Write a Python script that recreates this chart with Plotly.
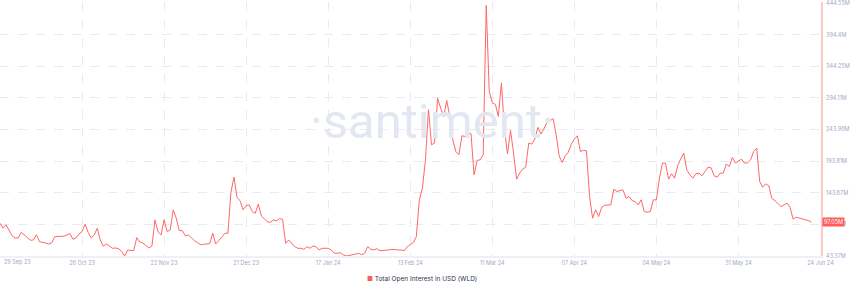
import pandas as pd
import plotly.graph_objects as go

# ---- data ----
start_date = "2023-09-29"
series_name = "Total Open Interest in USD (WLD)"
oi_values_musd = [
    95.3, 87.4, 92.6, 84.7, 75.2, 72.0, 72.0, 81.0, 76.7, 72.4,
    68.3, 68.8, 77.2, 66.1, 65.6, 64.0, 62.4, 64.0, 74.0, 74.7,
    74.7, 74.7, 76.7, 78.8, 69.9, 72.0, 78.3, 82.0, 93.7, 81.0,
    72.0, 76.7, 87.4, 68.8, 58.8, 62.4, 59.3, 55.6, 56.1, 55.0,
    50.8, 43.4, 52.9, 52.4, 51.8, 72.4, 65.6, 64.0, 59.3, 56.1,
    59.3, 100.6, 82.0, 76.7, 100.6, 82.0, 84.7, 116.5, 103.3, 83.6,
    83.6, 75.2, 76.7, 71.5, 67.7, 64.5, 61.3, 61.9, 62.4, 62.9,
    79.4, 62.4, 67.7, 74.0, 79.4, 79.4, 144.6, 168.4, 136.0, 131.2,
    116.5, 123.3, 124.4, 113.8, 111.2, 125.5, 106.9, 102.6, 97.4, 96.9,
    100.6, 99.0, 102.6, 101.5, 63.5, 68.8, 63.5, 58.1, 55.6, 55.6,
    54.0, 58.1, 55.6, 59.3, 58.1, 52.9, 55.6, 55.6, 55.6, 52.9,
    47.7, 47.7, 48.6, 45.0, 43.4, 44.2, 45.0, 46.4, 47.7, 45.4,
    47.7, 58.1, 54.0, 52.9, 55.0, 51.8, 51.8, 51.8, 53.0, 54.0,
    52.9, 52.9, 52.9, 51.8, 58.1, 61.3, 64.5, 74.0, 132.4, 151.0,
    195.9, 275.4, 219.7, 222.4, 293.3, 278.0, 264.7, 290.1, 264.7, 227.7,
    209.1, 203.8, 234.0, 232.9, 238.3, 237.2, 172.1, 194.8, 195.9, 203.8,
    440.6, 304.4, 286.0, 283.8, 264.7, 317.8, 243.6, 205.4, 242.5, 206.5,
    165.2, 174.8, 181.1, 184.3, 222.4, 220.8, 228.8, 247.2, 236.7, 245.0,
    255.2, 257.9, 261.0, 236.4, 202.3, 191.6, 202.3, 207.8, 220.5, 228.8,
    234.0, 209.1, 210.7, 210.2, 137.6, 103.3, 116.5, 105.8, 120.8, 123.9,
    124.2, 124.4, 149.4, 145.5, 147.1, 148.2, 135.0, 137.6, 131.2, 129.6,
    124.4, 132.4, 113.8, 112.8, 113.8, 132.4, 132.4, 166.8, 190.7, 190.7,
    165.2, 173.7, 166.8, 186.4, 197.5, 206.5, 180.0, 172.1, 166.8, 173.7,
    174.8, 170.5, 177.3, 184.3, 183.2, 170.5, 168.4, 174.8, 174.8, 189.1,
    185.3, 199.6, 190.7, 193.2, 197.0, 190.7, 191.1, 195.9, 209.1, 214.5,
    161.4, 152.5, 157.8, 154.6, 134.4, 131.2, 127.1, 121.7, 124.4, 127.1,
    120.1, 101.7, 104.9, 103.7, 102.6, 101.0, 99.5, 97.05,
]
x_tick_labels = ["29 Sep 23", "26 Oct 23", "22 Nov 23", "21 Dec 23", "17 Jan 24",
                 "13 Feb 24", "11 Mar 24", "07 Apr 24", "04 May 24", "31 May 24",
                 "24 Jun 24"]
y_tick_values = [43.37, 93.52, 143.67, 193.81, 243.96, 294.11, 344.25, 394.4, 444.55]
y_tick_labels = ["43.37M", "93.52M", "143.67M", "193.81M", "243.96M",
                 "294.11M", "344.25M", "394.4M", "444.55M"]
last_value_label = "97.05M"

# ---- build ----
dates = pd.date_range(start=start_date, periods=len(oi_values_musd), freq="D")
t0 = pd.Timestamp(start_date)
tick_step_days = 27
tick_dates = [t0 + pd.Timedelta(days=tick_step_days * k) for k in range(len(x_tick_labels))]
x_range = [t0, tick_dates[-1] + pd.Timedelta(hours=4)]

RED = "#ff6666"
AXIS_TXT = "#9faac4"
GRID = "#e7eaf3"
FONT = "Inter, Roboto, sans-serif"

fig = go.Figure()
fig.add_trace(go.Scatter(
    x=dates, y=oi_values_musd, mode="lines", name=series_name,
    line=dict(color=RED, width=1), showlegend=False, hoverinfo="skip",
))

fig.update_layout(
    width=850, height=288,
    margin=dict(l=0, r=24, t=2, b=32),
    paper_bgcolor="white", plot_bgcolor="white",
    font=dict(family=FONT, size=6, color=AXIS_TXT),
    xaxis=dict(
        type="date", range=x_range,
        tickmode="array", tickvals=tick_dates,
        ticktext=[""] + x_tick_labels[1:],
        showgrid=True, gridcolor=GRID, griddash="dash", gridwidth=1,
        zeroline=False, showline=True, linecolor="#eef0f6", linewidth=2,
        ticks="", tickfont=dict(size=5.5, color=AXIS_TXT, family=FONT),
        ticklabelstandoff=0, ticklabeloverflow="allow",
    ),
    yaxis=dict(
        side="right", range=[y_tick_values[0], y_tick_values[-1] + 1.5],
        tickmode="array", tickvals=y_tick_values, ticktext=y_tick_labels,
        showgrid=True, gridcolor=GRID, griddash="dash", gridwidth=1,
        zeroline=False, showline=True, linecolor="rgba(255,91,91,0.35)", linewidth=2,
        ticks="", tickfont=dict(size=5.5, color=AXIS_TXT, family=FONT),
        ticklabelstandoff=2, ticklabeloverflow="allow",
    ),
)

# first x tick label (shifted inward like the reference)
fig.add_annotation(
    x=tick_dates[0], y=0, xref="x", yref="paper", yanchor="top", xanchor="left",
    text=x_tick_labels[0], showarrow=False, xshift=2, yshift=-1,
    font=dict(size=5.5, color=AXIS_TXT, family=FONT),
)

# watermark
fig.add_annotation(
    x=0.527, y=0.53, xref="paper", yref="paper", text="·santiment·",
    showarrow=False, font=dict(size=49, color="#e3e7f1", family="Roboto", weight=400),
)

# last value badge
fig.add_annotation(
    x=1, y=oi_values_musd[-1], xref="paper", yref="y", xanchor="left", yanchor="middle",
    text=last_value_label, showarrow=False, bgcolor="#ff5b5b", borderpad=1, xshift=1,
    font=dict(size=5.5, color="white", family=FONT),
)

# legend
fig.add_annotation(
    x=425 / 826, y=0, xref="paper", yref="paper", yanchor="middle", showarrow=False,
    text=f'<span style="color:#ff5b5b">■</span> {series_name}',
    font=dict(size=6.5, color="#2f354d", family=FONT), yshift=-23,
)

fig.write_html("out.html")
